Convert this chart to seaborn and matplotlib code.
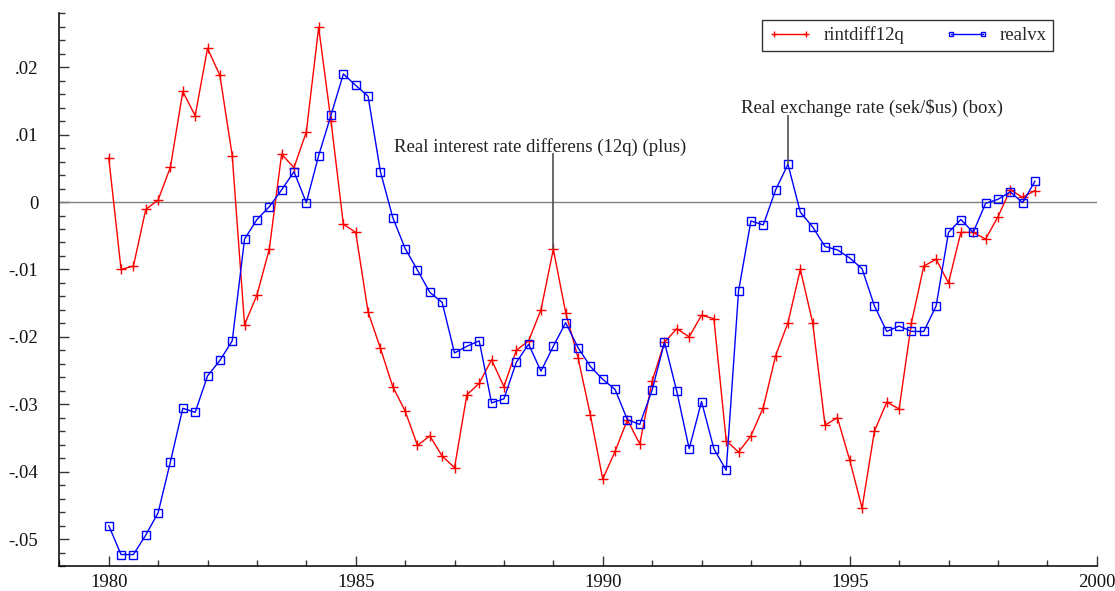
import numpy as np
import pandas as pd
import matplotlib
matplotlib.use("Agg")
import matplotlib.pyplot as plt
from matplotlib.ticker import MultipleLocator, FuncFormatter
import seaborn as sns

# quarterly data, 1980q1 .. 1998q4
quarters = np.arange(1980, 1999, 0.25)

rintdiff12q = [
    0.0066, -0.0100, -0.0095, -0.0011, 0.0003, 0.0052, 0.0164, 0.0128,
    0.0228, 0.0188, 0.0069, -0.0182, -0.0138, -0.0070, 0.0071, 0.0051,
    0.0104, 0.0259, 0.0120, -0.0033, -0.0045, -0.0163, -0.0217, -0.0274,
    -0.0310, -0.0361, -0.0347, -0.0377, -0.0394, -0.0286, -0.0269, -0.0234,
    -0.0274, -0.0220, -0.0206, -0.0160, -0.0070, -0.0164, -0.0231, -0.0316,
    -0.0411, -0.0370, -0.0323, -0.0359, -0.0266, -0.0208, -0.0188, -0.0200,
    -0.0168, -0.0173, -0.0354, -0.0371, -0.0347, -0.0305, -0.0228, -0.0179,
    -0.0100, -0.0179, -0.0331, -0.0320, -0.0383, -0.0454, -0.0340, -0.0297,
    -0.0307, -0.0179, -0.0095, -0.0085, -0.0120, -0.0045, -0.0045, -0.0055,
    -0.0022, 0.0018, 0.0007, 0.0017,
]

realvx = [
    -0.0480, -0.0523, -0.0523, -0.0494, -0.0461, -0.0385, -0.0306, -0.0312,
    -0.0258, -0.0235, -0.0206, -0.0055, -0.0026, -0.0007, 0.0018, 0.0045,
    -0.0001, 0.0069, 0.0129, 0.0190, 0.0173, 0.0157, 0.0045, -0.0023,
    -0.0069, -0.0101, -0.0134, -0.0149, -0.0224, -0.0214, -0.0206, -0.0298,
    -0.0292, -0.0238, -0.0211, -0.0251, -0.0214, -0.0179, -0.0216, -0.0244,
    -0.0263, -0.0278, -0.0323, -0.0330, -0.0279, -0.0208, -0.0281, -0.0366,
    -0.0296, -0.0366, -0.0398, -0.0132, -0.0028, -0.0034, 0.0018, 0.0056,
    -0.0015, -0.0037, -0.0066, -0.0071, -0.0083, -0.0099, -0.0154, -0.0192,
    -0.0184, -0.0192, -0.0192, -0.0154, -0.0045, -0.0026, -0.0045, -0.0002,
    0.0004, 0.0015, -0.0001, 0.0031,
]

df = pd.DataFrame({"date": quarters, "rintdiff12q": rintdiff12q, "realvx": realvx})

sns.set_style("white")
plt.rcParams["font.family"] = ["Liberation Serif", "DejaVu Serif"]
plt.rcParams["axes.unicode_minus"] = False

fig = plt.figure(figsize=(11.15, 5.91), dpi=100)
ax = fig.add_axes([0.0532, 0.0423, 0.9304, 0.9352])

ax.axhline(0, color="#808080", lw=1, zorder=1)

sns.lineplot(data=df, x="date", y="rintdiff12q", ax=ax, color="red", lw=1,
             marker="+", markersize=7, markeredgecolor="red", markeredgewidth=1,
             label="rintdiff12q")
sns.lineplot(data=df, x="date", y="realvx", ax=ax, color="blue", lw=1,
             marker="s", markersize=6, markerfacecolor="none",
             markeredgecolor="blue", markeredgewidth=1, label="realvx")

# labels with vertical pointer lines
i_r = 36  # 1989q1
i_b = 55  # 1993q4
ax.text(1985.77, 0.0082, "Real interest rate differens (12q) (plus)",
        fontsize=13.5, va="center", ha="left", color="#222222")
ax.vlines(quarters[i_r], rintdiff12q[i_r], 0.0073, color="#505050", lw=1.2)
ax.text(1992.80, 0.0140, "Real exchange rate (sek/$us) (box)",
        fontsize=13.5, va="center", ha="left", color="#222222")
ax.vlines(quarters[i_b], realvx[i_b], 0.0129, color="#505050", lw=1.2)

ax.set_xlim(1979, 2000)
ax.set_ylim(-0.054, 0.028)
ax.set_xlabel("")
ax.set_ylabel("")

ax.xaxis.set_major_locator(MultipleLocator(5))
ax.xaxis.set_minor_locator(MultipleLocator(1))
ax.yaxis.set_major_locator(MultipleLocator(0.01))
ax.yaxis.set_minor_locator(MultipleLocator(0.002))


def yfmt(v, pos):
    if abs(v) < 1e-9:
        return "0"
    s = "%.2f" % v
    return s.replace("0.", ".")


ax.yaxis.set_major_formatter(FuncFormatter(yfmt))
ax.xaxis.set_major_formatter(FuncFormatter(lambda v, p: "%d" % v))

ax.tick_params(axis="both", which="both", bottom=True, left=True)
ax.tick_params(axis="both", which="major", direction="in", length=7, width=1,
               color="#333333", labelsize=13.5, labelcolor="#111111")
ax.tick_params(axis="both", which="minor", direction="in", length=4, width=1,
               color="#333333")
ax.tick_params(axis="y", which="major", pad=15)
ax.tick_params(axis="x", which="major", pad=6)

sns.despine(ax=ax, top=True, right=True)
for s in ["left", "bottom"]:
    ax.spines[s].set_color("#111111")
    ax.spines[s].set_linewidth(1.2)

leg = ax.legend(loc="upper right", bbox_to_anchor=(0.958, 0.988), ncol=2,
                fontsize=13.5, numpoints=2, markerscale=0.6, frameon=True,
                fancybox=False, edgecolor="black", borderaxespad=0,
                handlelength=2.3, columnspacing=2.2, borderpad=0.35,
                handletextpad=0.6)
leg.get_frame().set_linewidth(1)

fig.savefig("out.png", dpi=100)
